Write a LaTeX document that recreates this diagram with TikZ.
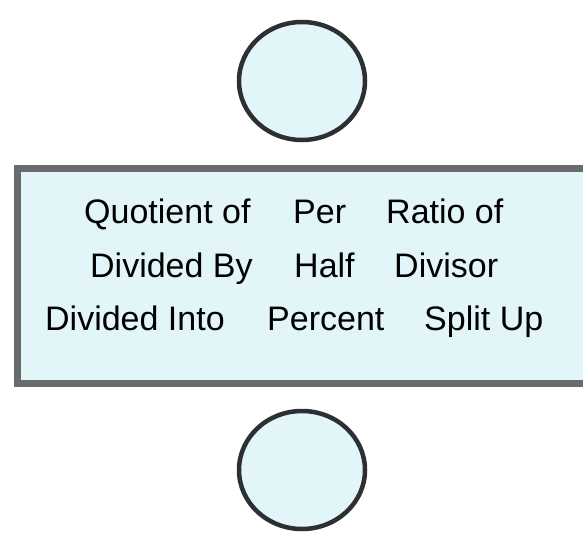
\documentclass[tikz,border=0pt]{standalone}
\usepackage{fontspec}
\setmainfont{Liberation Sans}
\definecolor{boxfill}{RGB}{226,246,250}
\definecolor{boxline}{RGB}{104,106,108}
\definecolor{circline}{RGB}{45,48,50}
\begin{document}
\begin{tikzpicture}[x=1pt,y=-1pt,
  word/.style={anchor=base west,inner sep=0pt,font=\fontsize{34}{40}\selectfont},
  bubble/.style={ellipse,draw=circline,line width=4.5pt,fill=boxfill},
  panel/.style={draw=boxline,line width=7pt,fill=boxfill}]
\useasboundingbox (0,0) rectangle (583,538);
\fill[white] (0,0) rectangle (583,538);
% panel
\path[panel] (17,168) rectangle (620,383);
% circles
\draw[draw=circline,line width=4.5pt,fill=boxfill] (302,81) ellipse [x radius=63,y radius=59];
\draw[draw=circline,line width=4.5pt,fill=boxfill] (302,470) ellipse [x radius=63,y radius=59];
% words
\node[word] (w11) at (84,223) {Quotient of};
\node[word] (w12) at (293,223) {Per};
\node[word] (w13) at (386,223) {Ratio of};
\node[word] (w21) at (90,277) {Divided By};
\node[word] (w22) at (294,277) {Half};
\node[word] (w23) at (394,277) {Divisor};
\node[word] (w31) at (45,330) {Divided Into};
\node[word] (w32) at (267,330) {Percent};
\node[word] (w33) at (424,330) {Split Up};
\end{tikzpicture}
\end{document}
